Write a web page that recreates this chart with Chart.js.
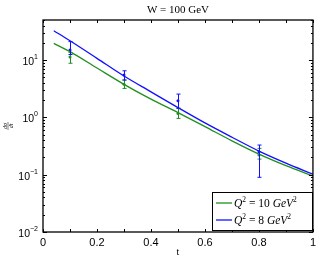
<!DOCTYPE html>
<html>
<head>
<meta charset="utf-8">
<script src="https://cdn.jsdelivr.net/npm/chart.js@4"></script>
<style>
  html, body { margin: 0; padding: 0; background: #fff; }
  canvas { display: block; }
</style>
</head>
<body>
<canvas id="chart" width="320" height="259"></canvas>
<script>
// curves
const tCurve = [0.04, 0.1, 0.2, 0.3, 0.4, 0.5, 0.6, 0.7, 0.8, 0.9, 1.0];
const q10Curve = [19.5, 14.0, 7.25, 3.77, 2.08, 1.21, 0.69, 0.39, 0.229, 0.144, 0.095];
const q8Curve = [32.5, 21.7, 10.7, 5.26, 2.79, 1.48, 0.80, 0.45, 0.258, 0.159, 0.102];

// measured points with error bars
const tData = [0.1, 0.3, 0.5, 0.8];
const q10Data = [11.3, 3.77, 1.17, 0.22];
const q10Lo = [8.8, 3.2, 0.96, 0.187];
const q10Hi = [13.5, 4.48, 1.44, 0.288];
const q8Data = [15, 5.47, 1.95, 0.251];
const q8Lo = [12.5, 4.48, 1.44, 0.090];
const q8Hi = [21, 6.5, 2.55, 0.329];

// axis ticks
const yTicks = [0.01, 0.1, 1, 10];
const yTickExp = ['−2', '−1', '0', '1'];
const xTicks = [0, 0.2, 0.4, 0.6, 0.8, 1];

const GREEN = '#1f8f1f';
const BLUE = '#1010ff';
const SANS = '"Liberation Sans", Arial, sans-serif';
const SERIF = '"Liberation Serif", serif';

function pts(xs, ys) {
    return xs.map((x, i) => ({ x: x, y: ys[i] }));
}

// frame, inward ticks, error bars, labels and legend, MATLAB style
const decorPlugin = {
    id: 'decor',
    afterDatasetsDraw(chart) {
        const ctx = chart.ctx;
        const xs = chart.scales.x;
        const ys = chart.scales.y;
        const a = chart.chartArea;

        // error bars
        const bars = [
            { lo: q10Lo, hi: q10Hi, color: GREEN },
            { lo: q8Lo, hi: q8Hi, color: BLUE }
        ];
        bars.forEach(b => {
            ctx.save();
            ctx.strokeStyle = b.color;
            ctx.lineWidth = 1;
            tData.forEach((t, i) => {
                const px = Math.round(xs.getPixelForValue(t)) + 0.5;
                const y1 = ys.getPixelForValue(b.lo[i]);
                const y2 = ys.getPixelForValue(b.hi[i]);
                ctx.beginPath();
                ctx.moveTo(px, y1); ctx.lineTo(px, y2);
                ctx.moveTo(px - 2, y1); ctx.lineTo(px + 2, y1);
                ctx.moveTo(px - 2, y2); ctx.lineTo(px + 2, y2);
                ctx.stroke();
            });
            ctx.restore();
        });

        ctx.save();
        ctx.strokeStyle = '#000';
        ctx.lineWidth = 1;
        // ticks
        ctx.beginPath();
        for (let k = 0; k <= 10; k++) {
            const px = Math.round(xs.getPixelForValue(k / 10)) + 0.5;
            ctx.moveTo(px, a.bottom); ctx.lineTo(px, a.bottom - 3);
            ctx.moveTo(px, a.top); ctx.lineTo(px, a.top + 3);
        }
        for (let d = -2; d <= 1; d++) {
            for (let m = 1; m <= 9; m++) {
                const v = m * Math.pow(10, d);
                if (v > ys.max) break;
                const py = Math.round(ys.getPixelForValue(v)) + 0.5;
                const len = m === 1 ? 4 : 2;
                ctx.moveTo(a.left, py); ctx.lineTo(a.left + len, py);
                ctx.moveTo(a.right, py); ctx.lineTo(a.right - len, py);
            }
        }
        ctx.stroke();
        // box
        ctx.lineWidth = 1.3;
        ctx.strokeRect(a.left, a.top, a.right - a.left, a.bottom - a.top);

        // y tick labels: 10 with superscript exponent
        ctx.fillStyle = '#000';
        ctx.textBaseline = 'alphabetic';
        yTicks.forEach((v, i) => {
            const py = ys.getPixelForValue(v);
            ctx.font = '7px ' + SANS;
            ctx.textAlign = 'right';
            const ew = ctx.measureText(yTickExp[i]).width;
            ctx.fillText(yTickExp[i], a.left - 5, py - 1);
            ctx.font = '10.5px ' + SANS;
            ctx.fillText('10', a.left - 5 - ew, py + 5);
        });

        // title and axis labels
        ctx.textAlign = 'center';
        ctx.textBaseline = 'middle';
        ctx.font = '11px ' + SERIF;
        ctx.fillText('W = 100 GeV', (a.left + a.right) / 2, 10);
        ctx.font = '10px ' + SERIF;
        ctx.fillText('t', (a.left + a.right) / 2, 252);

        ctx.save();
        ctx.translate(8, (a.top + a.bottom) / 2);
        ctx.rotate(-Math.PI / 2);
        ctx.font = 'italic 6px ' + SERIF;
        ctx.fillText('dσ', 0, -3);
        ctx.fillText('dt', 0, 3.5);
        ctx.beginPath();
        ctx.lineWidth = 0.5;
        ctx.moveTo(-4, 0); ctx.lineTo(4, 0);
        ctx.stroke();
        ctx.restore();

        // legend
        const lx = 212, ly = 192, lw = 100, lh = 38;
        ctx.fillStyle = '#fff';
        ctx.fillRect(lx, ly, lw, lh);
        ctx.lineWidth = 1;
        ctx.strokeStyle = '#000';
        ctx.strokeRect(lx + 0.5, ly + 0.5, lw, lh);
        const entries = [
            { color: GREEN, num: '10', y: ly + 11 },
            { color: BLUE, num: '8', y: ly + 28 }
        ];
        entries.forEach(e => {
            ctx.strokeStyle = e.color;
            ctx.lineWidth = 1.3;
            ctx.beginPath();
            ctx.moveTo(lx + 4, e.y); ctx.lineTo(lx + 20, e.y);
            ctx.stroke();
            ctx.fillStyle = '#000';
            ctx.textAlign = 'left';
            ctx.textBaseline = 'alphabetic';
            let x = lx + 22;
            const base = e.y + 4;
            const parts = [
                ['italic 11.5px ' + SERIF, 'Q', 0],
                ['7.5px ' + SERIF, '2', -5],
                ['11.5px ' + SERIF, ' = ' + e.num + ' ', 0],
                ['italic 11.5px ' + SERIF, 'GeV', 0],
                ['7.5px ' + SERIF, '2', -5]
            ];
            parts.forEach(p => {
                ctx.font = p[0];
                ctx.fillText(p[1], x, base + p[2]);
                x += ctx.measureText(p[1]).width;
            });
        });
        ctx.restore();
    }
};

const ctx = document.getElementById('chart').getContext('2d');
new Chart(ctx, {
    type: 'line',
    data: {
        datasets: [
            {
                label: 'Q² = 10 GeV²',
                data: pts(tCurve, q10Curve),
                borderColor: GREEN,
                borderWidth: 1.3,
                pointRadius: 0,
                cubicInterpolationMode: 'monotone'
            },
            {
                label: 'Q² = 8 GeV²',
                data: pts(tCurve, q8Curve),
                borderColor: BLUE,
                borderWidth: 1.3,
                pointRadius: 0,
                cubicInterpolationMode: 'monotone'
            },
            {
                label: 'data 10',
                data: pts(tData, q10Data),
                showLine: false,
                pointRadius: 1.5,
                pointBorderWidth: 0,
                pointBackgroundColor: GREEN,
                borderColor: GREEN
            },
            {
                label: 'data 8',
                data: pts(tData, q8Data),
                showLine: false,
                pointRadius: 1.5,
                pointBorderWidth: 0,
                pointBackgroundColor: BLUE,
                borderColor: BLUE
            }
        ]
    },
    options: {
        responsive: false,
        animation: false,
        layout: { padding: { top: 20, right: 6, left: 0, bottom: 0 } },
        plugins: {
            legend: { display: false },
            title: { display: false },
            tooltip: { enabled: false }
        },
        scales: {
            x: {
                type: 'linear',
                min: 0,
                max: 1,
                afterBuildTicks: s => { s.ticks = xTicks.map(v => ({ value: v })); },
                afterFit: s => { s.height = 27; },
                grid: { display: false, drawTicks: false },
                border: { display: false },
                ticks: {
                    padding: 4,
                    maxRotation: 0,
                    color: '#000',
                    font: { family: SANS, size: 11 },
                    callback: v => String(v)
                }
            },
            y: {
                type: 'logarithmic',
                min: 0.01,
                max: 50,
                afterBuildTicks: s => { s.ticks = yTicks.map(v => ({ value: v })); },
                afterFit: s => { s.width = 43; },
                grid: { display: false, drawTicks: false },
                border: { display: false },
                ticks: { display: false }
            }
        }
    },
    plugins: [decorPlugin]
});
</script>
</body>
</html>
